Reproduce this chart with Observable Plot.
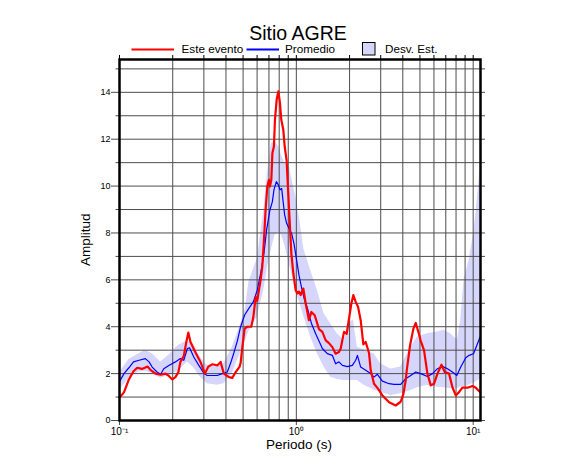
<!DOCTYPE html>
<html><head><meta charset="utf-8">
<script src="https://cdn.jsdelivr.net/npm/d3@7"></script>
<script src="https://cdn.jsdelivr.net/npm/@observablehq/plot@0.6"></script>
<style>
body{margin:0;background:#fff;font-family:"Liberation Sans",Arial,sans-serif;}
#wrap{position:relative;width:586px;height:475px;overflow:hidden;}
.t{position:absolute;white-space:nowrap;color:#000;line-height:1;}
.sw{position:absolute;}
</style></head><body>
<div id="wrap">
<div id="chart"></div>
<div class="t" style="left:198px;width:200px;text-align:center;top:23.5px;font-size:19.5px">Sitio AGRE</div>
<svg class="sw" style="left:131px;top:45px" width="44" height="9"><line x1="0.5" y1="4.5" x2="43" y2="4.5" stroke="#ff0000" stroke-width="2"/></svg>
<div class="t" style="left:181.5px;top:43.4px;font-size:11.7px">Este evento</div>
<svg class="sw" style="left:246px;top:45px" width="34" height="9"><line x1="0.5" y1="4.5" x2="33" y2="4.5" stroke="#0000ff" stroke-width="2"/></svg>
<div class="t" style="left:285px;top:43.4px;font-size:11.7px">Promedio</div>
<svg class="sw" style="left:361px;top:41px" width="16" height="16"><rect x="1.5" y="1.5" width="12.5" height="12.5" fill="#d6d6fc" stroke="#000" stroke-width="1"/></svg>
<div class="t" style="left:385px;top:43.4px;font-size:11.7px">Desv. Est.</div>
<div class="t" style="left:249px;width:100px;text-align:center;top:437.6px;font-size:13.5px">Periodo (s)</div>
<div class="t" style="left:36px;width:100px;text-align:center;top:232.7px;font-size:13.5px;transform:rotate(-90deg);transform-origin:50px 6.75px">Amplitud</div>
</div>
<script>
// Este evento (red)
const redPeriod = [0.100,0.106,0.113,0.120,0.126,0.134,0.144,0.150,0.160,0.171,0.182,0.190,0.199,0.207,0.215,0.221,0.231,0.238,0.245,0.252,0.269,0.287,0.304,0.318,0.335,0.357,0.373,0.389,0.416,0.434,0.453,0.478,0.484,0.495,0.510,0.528,0.556,0.571,0.589,0.601,0.628,0.642,0.656,0.670,0.685,0.700,0.709,0.722,0.732,0.747,0.757,0.774,0.791,0.808,0.822,0.844,0.859,0.881,0.896,0.916,0.937,0.962,0.991,1.013,1.035,1.058,1.095,1.129,1.178,1.216,1.270,1.343,1.403,1.466,1.529,1.598,1.668,1.742,1.782,1.860,1.926,1.986,2.047,2.101,2.166,2.233,2.311,2.393,2.467,2.576,2.634,2.749,2.895,3.067,3.345,3.646,3.891,4.032,4.154,4.211,4.394,4.592,4.734,4.940,5.050,5.272,5.510,5.754,6.011,6.281,6.619,6.905,7.305,7.632,7.973,8.318,8.689,9.286,9.911,10.35,10.80,10.94];
const redAmp = [0.98,1.2,1.75,2.1,2.25,2.2,2.3,2.15,2.0,1.95,2.0,1.9,1.75,1.85,2.05,2.5,2.75,3.3,3.75,3.35,2.9,2.5,2.0,2.3,2.4,2.35,2.5,2.0,1.85,1.82,2.05,2.3,2.45,3.13,3.92,4.0,4.0,4.4,5.27,5.1,6.0,6.56,7.7,8.98,9.98,10.27,9.98,10.27,11.4,11.7,12.83,13.69,14.04,13.55,12.83,12.4,11.7,11.1,10.0,8.55,7.13,6.27,5.56,5.42,5.5,5.35,5.63,5.0,4.28,4.63,4.49,3.9,3.78,3.42,3.3,3.13,2.85,2.92,3.07,3.78,3.7,4.35,4.99,5.35,5.06,4.85,4.28,3.25,3.35,2.88,2.14,1.57,1.36,1.07,0.78,0.64,0.8,1.14,1.71,2.14,3.2,3.92,4.16,3.68,3.4,3.0,2.0,1.5,1.57,2.0,2.38,2.07,2.0,1.42,1.07,1.21,1.4,1.4,1.47,1.4,1.25,1.22];
// Promedio (blue)
const bluePeriod = [0.100,0.106,0.113,0.120,0.129,0.140,0.147,0.153,0.163,0.171,0.178,0.190,0.207,0.221,0.231,0.242,0.249,0.263,0.281,0.300,0.313,0.335,0.357,0.381,0.407,0.425,0.444,0.464,0.484,0.510,0.539,0.571,0.601,0.628,0.656,0.679,0.709,0.732,0.747,0.771,0.791,0.808,0.826,0.844,0.859,0.881,0.908,0.940,0.969,1.004,1.035,1.072,1.114,1.154,1.216,1.286,1.361,1.403,1.497,1.598,1.668,1.742,1.821,1.944,2.074,2.166,2.215,2.311,2.467,2.634,2.749,2.872,3.067,3.345,3.568,3.891,4.154,4.435,4.734,5.050,5.510,5.888,6.281,6.700,7.155,7.632,8.080,8.506,9.081,9.486,10.04,10.48,10.94];
const blueAmp = [1.65,2.0,2.25,2.5,2.57,2.64,2.5,2.28,2.07,1.97,2.21,2.35,2.5,2.64,2.57,3.07,3.1,2.71,2.35,2.02,1.92,1.92,1.92,2.0,2.07,2.45,2.9,3.4,4.0,4.5,4.78,5.06,5.56,6.27,7.13,8.13,8.98,9.34,9.84,10.19,10.05,9.84,9.9,9.27,8.77,8.41,8.2,7.98,7.56,6.84,6.2,5.65,5.13,4.8,4.15,3.7,3.3,3.07,2.85,2.78,2.42,2.5,2.35,2.3,2.35,2.57,2.78,2.28,2.14,2.0,1.85,1.97,1.68,1.57,1.54,1.54,1.78,1.92,2.07,2.0,1.88,2.0,2.21,2.31,2.21,2.07,1.92,2.28,2.68,2.78,2.85,3.2,3.56];
// Desv. Est. band
const bandPeriod = [0.100,0.113,0.129,0.140,0.153,0.171,0.190,0.215,0.242,0.263,0.281,0.313,0.357,0.389,0.434,0.484,0.516,0.539,0.601,0.656,0.685,0.722,0.757,0.791,0.826,0.859,0.916,0.962,1.004,1.058,1.104,1.205,1.315,1.433,1.563,1.706,1.860,2.028,2.101,2.215,2.413,2.749,2.999,3.417,3.891,4.435,4.838,5.510,6.281,6.842,7.467,8.146,8.506,8.883,9.486,10.12,10.58,10.94];
const bandLow = [1.3,1.8,2.07,2.1,2.0,1.8,1.92,2.1,2.5,2.25,1.92,1.57,1.5,1.57,2.0,2.9,3.4,3.8,4.4,5.6,6.5,7.3,7.9,8.0,7.9,7.5,6.6,6.0,5.4,4.9,4.42,3.56,2.85,2.28,1.85,1.75,1.71,1.71,1.71,1.71,1.5,1.3,1.21,1.07,1.14,1.28,1.4,1.5,1.42,1.4,1.35,1.38,1.42,1.45,1.5,1.6,1.7,1.75];
const bandHigh = [2.05,2.6,2.85,3.0,2.85,2.5,2.78,3.2,3.4,3.2,2.78,2.35,2.28,2.42,3.13,4.1,4.8,5.9,6.9,9.0,10.5,11.8,11.9,11.7,11.3,11.0,10.8,10.0,9.4,8.3,7.3,6.4,5.56,4.56,4.13,3.7,3.42,4.2,4.3,3.13,3.0,2.85,2.42,2.2,2.28,3.13,3.56,3.7,3.78,3.85,3.7,3.42,4.3,6.0,6.84,8.1,9.5,10.8];
// ticks
const xGridTicks = [0.1,0.2,0.3,0.4,0.5,0.6,0.7,0.8,0.9,1,2,3,4,5,6,7,8,9,10];
const xLabelTicks = [0.1,1,10];
const xTickLabels = ["10\u207B\u00B9","10\u2070","10\u00B9"];
const yGridTicks = [1,2,3,4,5,6,7,8,9,10,11,12,13,14,15];
const yMajorTicks = [0,2,4,6,8,10,12,14];
const yMinorTicks = [1,3,5,7,9,11,13,15];
const yAllTicks = [0,1,2,3,4,5,6,7,8,9,10,11,12,13,14,15];

const red = redPeriod.map((p,i)=>({p, a: redAmp[i]}));
const blue = bluePeriod.map((p,i)=>({p, a: blueAmp[i]}));
const band = bandPeriod.map((p,i)=>({p, lo: bandLow[i], hi: bandHigh[i]}));
const none = () => "";

const chart = Plot.plot({
  width: 586, height: 475,
  marginLeft: 119, marginRight: 106, marginTop: 59, marginBottom: 55,
  x: {type: "log", domain: [0.1, 11]},
  y: {domain: [0, 15.4]},
  style: {fontFamily: "'Liberation Sans', Arial, sans-serif", fontSize: "9px", background: "white", color: "#000"},
  marks: [
    Plot.areaY(band, {x: "p", y1: "lo", y2: "hi", fill: "#d6d6fc"}),
    Plot.ruleX(xGridTicks, {stroke: "#4d4d4d", strokeWidth: 1}),
    Plot.ruleY(yGridTicks, {stroke: "#4d4d4d", strokeWidth: 1}),
    Plot.line(blue, {x: "p", y: "a", stroke: "#0000ff", strokeWidth: 1.2}),
    Plot.line(red, {x: "p", y: "a", stroke: "#ff0000", strokeWidth: 2.2}),
    Plot.axisX({ticks: xLabelTicks, anchor: "bottom", tickSize: 5, tickPadding: 2, fontSize: 10, tickFormat: d => xTickLabels[xLabelTicks.indexOf(d)], stroke: "#4d4d4d", label: null}),
    Plot.axisX({ticks: xGridTicks, anchor: "top", tickSize: 5, tickFormat: none, stroke: "#000", label: null}),
    Plot.axisY({ticks: yMajorTicks, anchor: "left", tickSize: 8, tickPadding: 1, stroke: "#4d4d4d", label: null}),
    Plot.axisY({ticks: yMinorTicks, anchor: "left", tickSize: 3.5, tickFormat: none, stroke: "#4d4d4d", label: null}),
    Plot.axisY({ticks: yAllTicks, anchor: "right", tickSize: 4, tickFormat: none, stroke: "#4d4d4d", label: null}),
    Plot.frame({stroke: "#000", strokeWidth: 2.5})
  ]
});
document.getElementById("chart").appendChild(chart);
</script>
</body></html>
